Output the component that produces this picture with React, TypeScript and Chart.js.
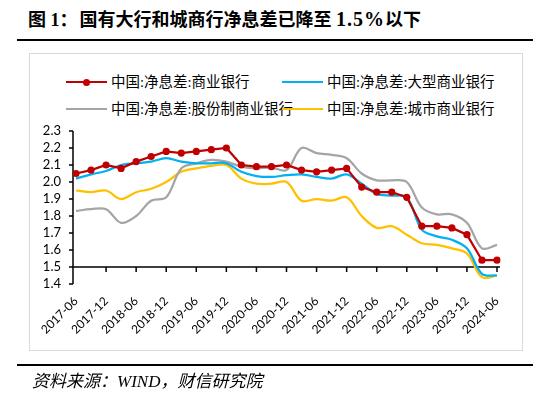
import React, { useEffect, useRef } from 'react';
import { Chart, registerables } from 'chart.js';

Chart.register(...registerables);

const quarters = [
  '2017-06', '2017-09', '2017-12', '2018-03', '2018-06', '2018-09', '2018-12', '2019-03',
  '2019-06', '2019-09', '2019-12', '2020-03', '2020-06', '2020-09', '2020-12', '2021-03',
  '2021-06', '2021-09', '2021-12', '2022-03', '2022-06', '2022-09', '2022-12', '2023-03',
  '2023-06', '2023-09', '2023-12', '2024-03', '2024-06',
];

const commercial = [
  2.05, 2.07, 2.10, 2.08, 2.12, 2.15, 2.18, 2.17, 2.18, 2.19, 2.20, 2.10, 2.09, 2.09, 2.10,
  2.07, 2.06, 2.07, 2.08, 1.97, 1.94, 1.94, 1.91, 1.74, 1.74, 1.73, 1.69, 1.54, 1.54,
];
const large = [
  2.02, 2.045, 2.065, 2.10, 2.11, 2.12, 2.14, 2.12, 2.11, 2.11, 2.11, 2.06, 2.035, 2.03, 2.04,
  2.045, 2.03, 2.02, 2.045, 1.99, 1.93, 1.92, 1.91, 1.72, 1.68, 1.66, 1.61, 1.46, 1.45,
];
const jointStock = [
  1.83, 1.84, 1.84, 1.76, 1.80, 1.89, 1.91, 2.08, 2.11, 2.13, 2.12, 2.09, 2.08, 2.085, 2.07,
  2.20, 2.17, 2.16, 2.14, 2.05, 2.01, 2.01, 2.00, 1.85, 1.81, 1.81, 1.76, 1.61, 1.63,
];
const cityComm = [
  1.95, 1.94, 1.95, 1.90, 1.94, 1.96, 2.00, 2.06, 2.08, 2.095, 2.10, 2.02, 1.99, 1.99, 2.00,
  1.89, 1.90, 1.89, 1.91, 1.80, 1.73, 1.74, 1.69, 1.64, 1.63, 1.61, 1.58, 1.44, 1.45,
];

const seriesNames = [
  '中国:净息差:商业银行',
  '中国:净息差:大型商业银行',
  '中国:净息差:股份制商业银行',
  '中国:净息差:城市商业银行',
];
const seriesColors = ['#C00000', '#00B0F0', '#A5A5A5', '#FFC000'];

const yMin = 1.4;
const yMax = 2.3;
const yStep = 0.1;
const xAxisValue = 1.5;

const titleHead = '图 1：';
const titleBody = '国有大行和城商行净息差已降至 ';
const titleNum = '1.5%';
const titleTail = '以下';
const sourceText = '资料来源：WIND，财信研究院';

const axesPlugin = {
  id: 'customAxes',
  beforeDatasetsDraw(chart: any) {
    const { ctx, chartArea, scales } = chart;
    const x = scales.x;
    const y = scales.y;
    const ax = chartArea.left - 3;
    ctx.save();
    ctx.strokeStyle = '#000';
    ctx.lineWidth = 1.5;
    ctx.beginPath();
    ctx.moveTo(ax, y.getPixelForValue(yMax));
    ctx.lineTo(ax, y.getPixelForValue(yMin));
    const n = Math.round((yMax - yMin) / yStep);
    for (let k = 0; k <= n; k++) {
      const py = y.getPixelForValue(yMin + k * yStep);
      ctx.moveTo(ax - 4, py);
      ctx.lineTo(ax, py);
    }
    const y15 = y.getPixelForValue(xAxisValue);
    ctx.moveTo(ax, y15);
    ctx.lineTo(chartArea.right + 3, y15);
    for (let i = 0; i < quarters.length; i += 2) {
      const px = i === 0 ? ax : x.getPixelForValue(i);
      ctx.moveTo(px, y15);
      ctx.lineTo(px, y15 + 5);
    }
    ctx.stroke();
    ctx.restore();
  },
};

function LegendItem({ left, top, color, marker, label }: any) {
  return (
    <div style={{ position: 'absolute', left, top, height: 20, display: 'flex', alignItems: 'center' }}>
      <div style={{ position: 'relative', width: 41, height: 20 }}>
        <div style={{ position: 'absolute', left: 0, top: 9, width: 41, height: 2.25, background: color }} />
        {marker && (
          <div style={{ position: 'absolute', left: 17, top: 6.5, width: 7, height: 7, borderRadius: '50%', background: color }} />
        )}
      </div>
      <span style={{ marginLeft: 4, fontFamily: '"Liberation Serif", "Noto Sans CJK SC", serif', fontSize: 14.5, color: '#000', whiteSpace: 'nowrap', lineHeight: '20px' }}>
        {label}
      </span>
    </div>
  );
}

export default function App() {
  const canvasRef = useRef<HTMLCanvasElement | null>(null);

  useEffect(() => {
    if (!canvasRef.current) return;
    const datasets = [commercial, large, jointStock, cityComm].map((data, i) => ({
      label: seriesNames[i],
      data,
      borderColor: seriesColors[i],
      backgroundColor: seriesColors[i],
      borderWidth: 2.25,
      pointRadius: i === 0 ? 3.6 : 0,
      pointHoverRadius: i === 0 ? 3.6 : 0,
      pointBorderWidth: 0,
      pointBackgroundColor: seriesColors[i],
      tension: i === 0 ? 0 : 0.35,
      fill: false,
    }));
    const chart = new Chart(canvasRef.current, {
      type: 'line',
      data: { labels: quarters, datasets },
      plugins: [axesPlugin],
      options: {
        animation: false,
        responsive: false,
        maintainAspectRatio: false,
        layout: { padding: { top: 131, right: 53, left: 0, bottom: 0 } },
        plugins: {
          legend: { display: false },
          title: { display: false },
          tooltip: { enabled: false },
        },
        scales: {
          x: {
            type: 'category',
            offset: false,
            grid: { display: false, drawTicks: false },
            border: { display: false },
            ticks: {
              autoSkip: false,
              minRotation: 45,
              maxRotation: 45,
              padding: 10,
              color: '#000',
              font: { family: 'Lato, "Open Sans", sans-serif', size: 12 },
              callback: (_v: any, i: number) => (i % 2 === 0 ? quarters[i] : ''),
            },
            afterFit: (s: any) => {
              s.height = 115;
            },
          },
          y: {
            min: yMin,
            max: yMax,
            grid: { display: false, drawTicks: false },
            border: { display: false },
            ticks: {
              stepSize: yStep,
              autoSkip: false,
              padding: 15,
              color: '#000',
              font: { family: 'Lato, "Open Sans", sans-serif', size: 13 },
              callback: (v: any) => Number(v).toFixed(1),
            },
            afterFit: (s: any) => {
              s.width = 76;
            },
          },
        },
      },
    } as any);
    return () => chart.destroy();
  }, []);

  return (
    <div style={{ position: 'absolute', left: 0, top: 0, width: 550, height: 399, background: '#fff', overflow: 'hidden' }}>
      <div style={{ position: 'absolute', left: 28, top: 5, fontFamily: '"Liberation Serif", "Noto Sans CJK SC", serif', fontWeight: 700, fontSize: 18, lineHeight: '28px', color: '#000', whiteSpace: 'nowrap' }}>
        {titleHead}
        <span style={{ marginLeft: 2 }}>{titleBody}</span>
        <span style={{ fontSize: 20, letterSpacing: 1 }}>{titleNum}</span>
        {titleTail}
      </div>
      <div style={{ position: 'absolute', left: 17, top: 39, width: 516, height: 2, background: '#000' }} />
      <div style={{ position: 'absolute', left: 29, top: 53, width: 494, height: 298, border: '1.5px solid #D9D9D9', boxSizing: 'border-box' }} />
      <LegendItem left={66} top={72} color={seriesColors[0]} marker label={seriesNames[0]} />
      <LegendItem left={282} top={72} color={seriesColors[1]} label={seriesNames[1]} />
      <LegendItem left={66} top={99} color={seriesColors[2]} label={seriesNames[2]} />
      <LegendItem left={282} top={99} color={seriesColors[3]} label={seriesNames[3]} />
      <canvas ref={canvasRef} width={550} height={399} style={{ position: 'absolute', left: 0, top: 0, width: 550, height: 399 }} />
      <div style={{ position: 'absolute', left: 17, top: 364, width: 516, height: 2, background: '#000' }} />
      <div style={{ position: 'absolute', left: 32, top: 369, fontFamily: '"Liberation Serif", "Noto Sans CJK SC", serif', fontStyle: 'italic', fontSize: 17, lineHeight: '26px', color: '#000', whiteSpace: 'nowrap' }}>
        {sourceText}
      </div>
    </div>
  );
}
